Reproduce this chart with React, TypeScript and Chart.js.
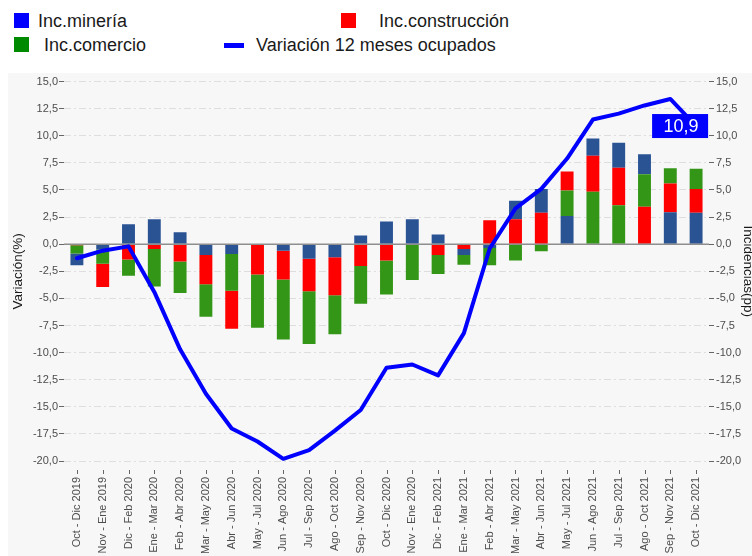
import React, { useEffect, useRef } from "react";
import { Chart, registerables } from "chart.js";

Chart.register(...registerables);

const categories = [
  "Oct - Dic 2019", "Nov - Ene 2019", "Dic - Feb 2020", "Ene - Mar 2020", "Feb - Abr 2020",
  "Mar - May 2020", "Abr - Jun 2020", "May - Jul 2020", "Jun - Ago 2020", "Jul - Sep 2020",
  "Ago - Oct 2020", "Sep - Nov 2020", "Oct - Dic 2020", "Nov - Ene 2020", "Dic - Feb 2021",
  "Ene - Mar 2021", "Feb - Abr 2021", "Mar - May 2021", "Abr - Jun 2021", "May - Jul 2021",
  "Jun - Ago 2021", "Jul - Sep 2021", "Ago - Oct 2021", "Sep - Nov 2021", "Oct - Dic 2021",
];

const mineria = [
  -1.1, -0.5, 1.85, 2.3, 1.1, -1.0, -0.9, 0.0, -0.6, -1.35,
  -1.2, 0.8, 2.1, 2.3, 0.9, -0.55, -0.35, 1.7, 2.2, 2.6,
  1.6, 2.3, 1.85, 2.95, 2.9,
];

const construccion = [
  -0.1, -2.15, -1.4, -0.45, -1.6, -2.7, -3.5, -2.8, -2.65, -3.0,
  -3.5, -2.0, -1.5, 0.0, -1.0, -0.45, 2.2, 2.3, 2.9, 1.75,
  3.3, 3.45, 3.45, 2.65, 2.2,
];

const comercio = [
  -0.75, -1.3, -1.5, -3.45, -2.9, -3.0, -3.4, -4.9, -5.55, -4.85,
  -3.6, -3.5, -3.15, -3.3, -1.75, -0.9, -1.6, -1.5, -0.65, 2.35,
  4.85, 3.6, 3.0, 1.4, 1.85,
];

const variacionOcupados = [
  -1.3, -0.6, -0.2, -4.4, -9.7, -13.8, -17.0, -18.2, -19.8, -19.0,
  -17.2, -15.3, -11.4, -11.1, -12.1, -8.2, -0.4, 3.3, 5.1, 7.9,
  11.5, 12.05, 12.8, 13.4, 10.9,
];

const yTicksMin = -20;
const yTicksMax = 15;
const yTicksStep = 2.5;

const BAR_BLUE = "#2a5394";
const BAR_RED = "#ff0000";
const BAR_GREEN = "#339617";
const LINE_BLUE = "#0000ff";
const FONT = '"Liberation Sans", Arial, Helvetica, sans-serif';

const fmt = (v: number) => Number(v).toFixed(1).replace(".", ",");

function buildRankedStacks() {
  const series = [
    { data: mineria, color: BAR_BLUE },
    { data: construccion, color: BAR_RED },
    { data: comercio, color: BAR_GREEN },
  ];
  const ranked = [0, 1, 2].map(() => ({ data: [] as number[], colors: [] as string[] }));
  categories.forEach((_, i) => {
    const order = [0, 1, 2].sort((a, b) => series[b].data[i] - series[a].data[i]);
    order.forEach((s, rank) => {
      ranked[rank].data.push(series[s].data[i]);
      ranked[rank].colors.push(series[s].color);
    });
  });
  return ranked;
}

const zeroLinePlugin = {
  id: "zeroLine",
  beforeDatasetDraw(chart: any, args: any) {
    if (args.index !== 0) return;
    const { ctx, chartArea } = chart;
    const y = chart.scales.y.getPixelForValue(0);
    ctx.save();
    ctx.strokeStyle = "#8e8e8e";
    ctx.lineWidth = 1.5;
    ctx.beginPath();
    ctx.moveTo(chartArea.left, y);
    ctx.lineTo(chartArea.right, y);
    ctx.stroke();
    ctx.restore();
  },
};

const xTickMarksPlugin = {
  id: "xTickMarks",
  afterDraw(chart: any) {
    const { ctx, chartArea } = chart;
    const xs = chart.scales.x;
    ctx.save();
    ctx.strokeStyle = "#666";
    ctx.lineWidth = 1;
    categories.forEach((_, i) => {
      const x = Math.round(xs.getPixelForValue(i)) + 0.5;
      ctx.beginPath();
      ctx.moveTo(x, chartArea.bottom + 9);
      ctx.lineTo(x, chartArea.bottom + 13);
      ctx.stroke();
    });
    ctx.restore();
  },
};

const lastLabelPlugin = {
  id: "lastLabel",
  afterDatasetsDraw(chart: any) {
    const meta = chart.getDatasetMeta(0);
    const pts = meta.data;
    if (!pts.length) return;
    const p = pts[pts.length - 1];
    const { ctx } = chart;
    const w = 56;
    const h = 24;
    const x = p.x - 44;
    const y = p.y - h / 2;
    ctx.save();
    ctx.fillStyle = LINE_BLUE;
    ctx.fillRect(x, y, w, h);
    ctx.fillStyle = "#ffffff";
    ctx.font = `18px ${FONT}`;
    ctx.textAlign = "center";
    ctx.textBaseline = "middle";
    ctx.fillText(fmt(variacionOcupados[variacionOcupados.length - 1]), x + w / 2 + 1, y + h / 2 + 1);
    ctx.restore();
  },
};

export default function App() {
  const ref = useRef<HTMLCanvasElement | null>(null);

  useEffect(() => {
    if (!ref.current) return;
    const ranked = buildRankedStacks();
    const tickFont = { family: FONT, size: 11 };
    const chart = new Chart(ref.current, {
      type: "bar",
      data: {
        labels: categories,
        datasets: [
          {
            type: "line",
            label: "Variación 12 meses ocupados",
            data: variacionOcupados,
            yAxisID: "y",
            borderColor: LINE_BLUE,
            backgroundColor: LINE_BLUE,
            borderWidth: 4,
            pointRadius: 0,
            tension: 0,
            borderCapStyle: "round",
            borderJoinStyle: "round",
            order: 0,
          } as any,
          ...ranked.map((r, k) => ({
            type: "bar",
            label: "rank" + k,
            data: r.data,
            backgroundColor: r.colors,
            yAxisID: "y2",
            stack: "inc",
            barPercentage: 0.5,
            categoryPercentage: 1,
            borderWidth: 0,
            order: 1,
          })) as any,
        ],
      },
      options: {
        animation: false,
        responsive: false,
        maintainAspectRatio: false,
        layout: { padding: { top: 0, left: 0, right: 0, bottom: 0 } },
        plugins: {
          legend: { display: false },
          tooltip: { enabled: false },
        },
        scales: {
          x: {
            stacked: true,
            offset: true,
            grid: { display: true, drawOnChartArea: false, drawTicks: false },
            border: { display: false },
            ticks: {
              autoSkip: false,
              maxRotation: 90,
              minRotation: 90,
              color: "#4d4d4d",
              font: tickFont,
              padding: 16,
            },
            afterFit: (s: any) => {
              s.height = 95;
            },
          },
          y: {
            position: "left",
            min: yTicksMin,
            max: yTicksMax,
            ticks: {
              stepSize: yTicksStep,
              color: "#4d4d4d",
              font: tickFont,
              padding: 1,
              callback: (v: any) => fmt(v),
            },
            grid: {
              color: "#dedede",
              lineWidth: 1,
              drawTicks: true,
              tickLength: 5,
              tickColor: "#666",
            },
            border: { display: false, dash: [7, 3, 2, 3] },
            title: {
              display: true,
              text: "Variación(%)",
              color: "#1a1a1a",
              font: { family: FONT, size: 13.5 },
              padding: { top: 2, bottom: 0 },
            },
            afterFit: (s: any) => {
              s.width = 56;
            },
          },
          y2: {
            position: "right",
            stacked: true,
            min: yTicksMin,
            max: yTicksMax,
            ticks: {
              stepSize: yTicksStep,
              color: "#4d4d4d",
              font: tickFont,
              padding: 2,
              callback: (v: any) => fmt(v),
            },
            grid: {
              drawOnChartArea: false,
              drawTicks: true,
              tickLength: 5,
              tickColor: "#666",
            },
            border: { display: false },
            title: {
              display: true,
              text: "Incidencias(pp)",
              color: "#1a1a1a",
              font: { family: FONT, size: 13.5 },
              padding: { top: -4, bottom: 0 },
            },
            afterFit: (s: any) => {
              s.width = 43;
            },
          },
        },
      } as any,
      plugins: [zeroLinePlugin, lastLabelPlugin, xTickMarksPlugin],
    });
    return () => chart.destroy();
  }, []);

  const textStyle = (left: number, cy: number): React.CSSProperties => ({
    position: "absolute",
    left,
    top: cy - 11,
    height: 22,
    lineHeight: "22px",
    fontSize: 18,
    fontFamily: FONT,
    color: "#1a1a1a",
    whiteSpace: "nowrap",
  });
  const box = (left: number, top: number, w: number, h: number, color: string): React.CSSProperties => ({
    position: "absolute",
    left,
    top,
    width: w,
    height: h,
    background: color,
  });

  return (
    <div style={{ position: "fixed", left: 0, top: 0, width: 752, height: 556, background: "#ffffff", overflow: "hidden" }}>
      <div style={box(14, 13, 15, 15, "#0000ff")} />
      <div style={textStyle(38, 20.5)}>Inc.minería</div>
      <div style={box(341, 13, 15, 15, "#ff0000")} />
      <div style={textStyle(379, 20.5)}>Inc.construcción</div>
      <div style={box(14, 37, 15, 15, "#008a00")} />
      <div style={textStyle(44, 44.5)}>Inc.comercio</div>
      <div style={box(224, 43, 20, 5, "#0000ff")} />
      <div style={textStyle(256, 44.5)}>Variación 12 meses ocupados</div>
      <div style={{ position: "absolute", left: 8, top: 73, width: 744, height: 483, background: "#f7f7f7" }}>
        <canvas ref={ref} width={744} height={483} style={{ display: "block" }} />
      </div>
    </div>
  );
}
